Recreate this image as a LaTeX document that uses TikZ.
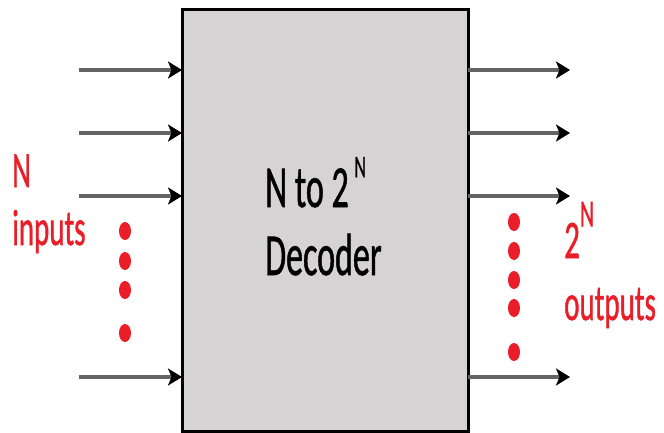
\documentclass[tikz,border=0pt]{standalone}
\usepackage{fontspec}
\setmainfont{Carlito}
\newfontfamily\heavyfont{Carlito}[FakeBold=1.2]
\usetikzlibrary{arrows.meta,shapes.geometric}
\definecolor{boxfill}{RGB}{214,211,212}
\definecolor{wiregray}{RGB}{100,100,100}
\definecolor{labred}{RGB}{234,30,40}
\newcommand{\tallt}[1]{\scalebox{1}[1.75]{\heavyfont #1}}
\begin{document}
\begin{tikzpicture}[x=1pt,y=-1pt,
  wire/.style={draw=wiregray,line width=3.5pt,-{Stealth[length=14pt,width=17pt,inset=3.5pt,black]}},
  reddot/.style={fill=labred,draw=none,ellipse,inner sep=0pt,minimum width=12pt,minimum height=18pt},
  redlab/.style={text=labred,inner sep=0pt,anchor=base west},
  mainlab/.style={text=black,inner sep=0pt,anchor=base west}]
\useasboundingbox (0,0) rectangle (664,433);
\node[draw=black,fill=boxfill,line width=3pt,minimum width=286pt,minimum height=421pt,inner sep=0pt,outer sep=0pt] (dec) at (325,220.5) {};
% text in box
\node[mainlab] (t1) at (265,207) {\tallt{\fontsize{34}{39}\selectfont N to 2\,\raisebox{17pt}{\fontsize{18}{18}\selectfont N}}};
\node[mainlab] (t2) at (265,275) {\tallt{\fontsize{34}{39}\selectfont Decoder}};
% inputs
\foreach \n/\yy in {1/70,2/133,3/196,4/377}{
  \coordinate (in\n) at (79,\yy);
  \coordinate (out\n) at (570,\yy);
  \draw[wire] (in\n) -- (dec.west |- in\n);
  \draw[wire] (dec.east |- out\n) -- (out\n);
}
% dots
\foreach \n/\yy in {1/231,2/261,3/290,4/333}{
  \node[reddot] (ld\n) at (125,\yy) {};
}
\foreach \n/\yy in {1/222,2/251,3/280,4/308,5/352}{
  \node[reddot] (rd\n) at (514,\yy) {};
}
% labels
\node[redlab] (lN) at (12,187) {\tallt{\fontsize{29}{33}\selectfont N}};
\node[redlab] (lin) at (12,245) {\tallt{\fontsize{29}{33}\selectfont inputs}};
\node[redlab] (l2N) at (564,258) {\tallt{\fontsize{31}{33}\selectfont 2\raisebox{18pt}{\fontsize{22}{22}\selectfont N}}};
\node[redlab] (lout) at (564,320) {\tallt{\fontsize{29}{33}\selectfont outputs}};
\end{tikzpicture}
\end{document}
